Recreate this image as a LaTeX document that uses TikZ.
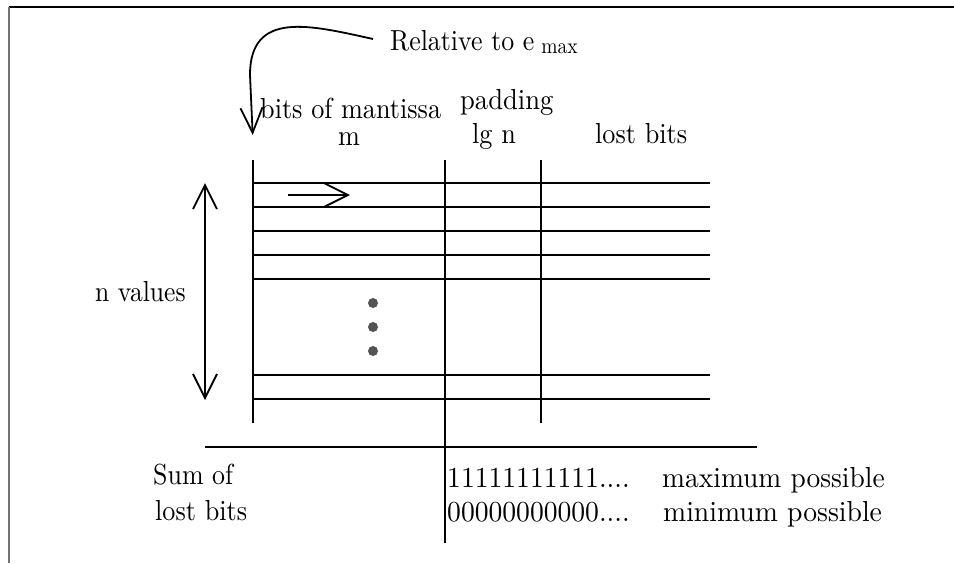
\documentclass[tikz,border=0pt]{standalone}
\usepackage{graphicx}
\usetikzlibrary{arrows.meta}
\newcommand{\tx}[2][2.62]{\scalebox{#1}[2.9]{\fontsize{10}{12}\selectfont #2}}
\begin{document}
\begin{tikzpicture}[x=1pt,y=-1pt,
  ln/.style={line width=1.8pt,black},
  barb/.style={line width=1.8pt,-{Straight Barb[length=24pt,width=24pt]}},
  dbarb/.style={line width=1.8pt,{Straight Barb[length=24pt,width=24pt]}-{Straight Barb[length=24pt,width=24pt]}},
  lbl/.style={anchor=base west,inner sep=0pt},
  dotc/.style={fill=black!67,draw=none,circle,minimum size=10pt,inner sep=0pt}]
\useasboundingbox (0,0) rectangle (954,563);
% frame
\coordinate (ftl) at (8.5,7);
\coordinate (ftr) at (954,7);
\coordinate (fbl) at (8.5,563);
\draw[line width=2pt,black] (ftl) -- (ftr);
\draw[line width=2pt,black!55] (ftl) -- (fbl);
% verticals
\coordinate (v1t) at (253,160); \coordinate (v1b) at (253,423);
\coordinate (v2t) at (445,160); \coordinate (v2b) at (445,543);
\coordinate (v3t) at (541,160); \coordinate (v3b) at (541,423);
\draw[ln] (v1t) -- (v1b);
\draw[ln] (v2t) -- (v2b);
\draw[ln] (v3t) -- (v3b);
% rows
\foreach \y [count=\i] in {183,207,231,255,279,375,399}{
  \coordinate (r\i l) at (253,\y);
  \coordinate (r\i r) at (710,\y);
  \draw[ln] (r\i l) -- (r\i r);
}
% bottom horizontal
\coordinate (hl) at (205,447);
\coordinate (hr) at (757,447);
\draw[ln] (hl) -- (hr);
% small arrow in first row
\coordinate (sa1) at (288,195);
\coordinate (sa2) at (350,195);
\draw[barb] (sa1) -- (sa2);
% n values double arrow
\coordinate (na1) at (205,183);
\coordinate (na2) at (205,400);
\draw[dbarb] (na1) -- (na2);
% dots
\node[dotc] (d1) at (373,303) {};
\node[dotc] (d2) at (373,327) {};
\node[dotc] (d3) at (373,351) {};
% curved arrow
\coordinate (c0) at (373,39);
\coordinate (c1) at (250,75);
\coordinate (c2) at (252.7,135);
\draw[line width=1.8pt,-{Straight Barb[length=25pt,width=22pt]}] (c0) .. controls (310,25) and (250,10) .. (c1) -- (c2);
% texts
\node[lbl] (rel) at (390,50) {\tx[2.59]{Relative to e}\hspace{7pt}\raisebox{-3pt}{\scalebox{1.95}[2.2]{\fontsize{10}{12}\selectfont max}}};
\node[lbl] (bits) at (260,118) {\tx{bits of mantissa}};
\node[lbl] (m) at (338,145) {\tx{m}};
\node[lbl] (pad) at (460,109) {\tx[2.66]{padding}};
\node[lbl] (lg) at (472,143) {\tx{lg n}};
\node[lbl] (lost) at (595,143) {\tx{lost bits}};
\node[lbl] (nv) at (95,301) {\tx[2.56]{n values}};
\node[lbl] (sum) at (153,484) {\tx[2.59]{Sum of}};
\node[lbl] (lost2) at (155,520) {\tx{lost bits}};
\node[lbl] (ones) at (447,487) {\tx[2.76]{11111111111....}};
\node[lbl] (zeros) at (447,521) {\tx[2.76]{00000000000....}};
\node[lbl] (max) at (662,487) {\tx[2.75]{maximum possible}};
\node[lbl] (min) at (663,521) {\tx[2.77]{minimum possible}};
\end{tikzpicture}
\end{document}
